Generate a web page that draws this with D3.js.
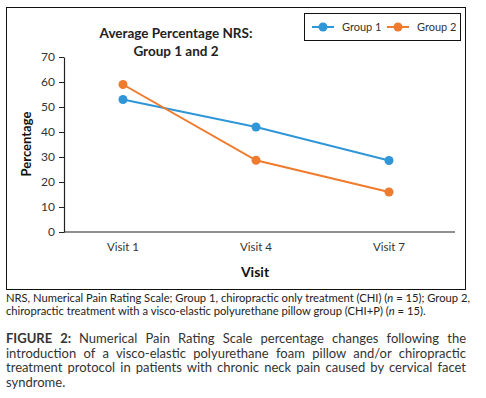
<!DOCTYPE html>
<html>
<head>
<meta charset="utf-8">
<script src="https://cdn.jsdelivr.net/npm/d3@7"></script>
<style>
  html, body { margin: 0; padding: 0; background: #fff; }
  svg { display: block; font-family: Lato, "Open Sans", sans-serif; }
</style>
</head>
<body>
<div id="chart"></div>
<script>
// data
const visits = ["Visit 1", "Visit 4", "Visit 7"];
const group1 = [53, 42, 28.6];
const group2 = [59, 28.7, 16];
const seriesNames = ["Group 1", "Group 2"];
const yTicks = [0, 10, 20, 30, 40, 50, 60, 70];

const noteLines = [
  "NRS, Numerical Pain Rating Scale; Group 1, chiropractic only treatment (CHI) (n = 15); Group 2,",
  "chiropractic treatment with a visco-elastic polyurethane pillow group (CHI+P) (n = 15)."
];
const captionLines = [
  "Numerical Pain Rating Scale percentage changes following the",
  "introduction of a visco-elastic polyurethane foam pillow and/or chiropractic",
  "treatment protocol in patients with chronic neck pain caused by cervical facet",
  "syndrome."
];

const W = 486, H = 398;
const colors = ["#2f96d8", "#ef7b2e"];

const svg = d3.select("#chart").append("svg")
  .attr("width", W).attr("height", H).attr("viewBox", `0 0 ${W} ${H}`);

// chart frame
svg.append("rect").attr("x", 6.5).attr("y", 7.5).attr("width", 459).attr("height", 282)
  .attr("fill", "none").attr("stroke", "#111").attr("stroke-width", 1);

const plot = { left: 64, right: 455, top: 57, bottom: 232 };
const x = d3.scalePoint().domain(visits).range([123, 389]);
const y = d3.scaleLinear().domain([0, 70]).range([plot.bottom, plot.top]);

// y axis
const yAxis = svg.append("g").attr("transform", `translate(${plot.left},0)`)
  .call(d3.axisLeft(y).tickValues(yTicks).tickSize(5).tickSizeOuter(0).tickPadding(4));
yAxis.select(".domain").attr("stroke", "#222").attr("stroke-width", 1.2);
yAxis.selectAll(".tick line").attr("stroke", "#222");
yAxis.selectAll("text").attr("font-size", 12).attr("fill", "#333").attr("font-family", "Lato, sans-serif");

// x axis line + labels
svg.append("line").attr("x1", plot.left).attr("x2", plot.right)
  .attr("y1", plot.bottom).attr("y2", plot.bottom).attr("stroke", "#222").attr("stroke-width", 1.2);
svg.append("g").selectAll("text").data(visits).join("text")
  .attr("x", d => x(d)).attr("y", 247).attr("dy", "0.35em")
  .attr("text-anchor", "middle").attr("font-size", 11.5).attr("fill", "#333").text(d => d);

// axis titles
svg.append("text").attr("x", 255).attr("y", 272).attr("dy", "0.35em")
  .attr("text-anchor", "middle").attr("font-size", 14).attr("font-weight", "bold").attr("fill", "#111").text("Visit");
svg.append("text").attr("transform", "translate(26,144) rotate(-90)").attr("dy", "0.35em")
  .attr("text-anchor", "middle").attr("font-size", 13).attr("font-weight", "bold").attr("fill", "#111").text("Percentage");

// title
const title = svg.append("text").attr("text-anchor", "middle").attr("font-size", 13.5)
  .attr("font-weight", "bold").attr("fill", "#222");
title.append("tspan").attr("x", 176).attr("y", 38).text("Average Percentage NRS:");
title.append("tspan").attr("x", 176).attr("y", 56).text("Group 1 and 2");

// lines + markers
const series = [group1, group2];
const line = d3.line().x((d, i) => x(visits[i])).y(d => y(d));
series.forEach((vals, s) => {
  svg.append("path").datum(vals).attr("d", line)
    .attr("fill", "none").attr("stroke", colors[s]).attr("stroke-width", 2);
  svg.append("g").selectAll("circle").data(vals).join("circle")
    .attr("cx", (d, i) => x(visits[i])).attr("cy", d => y(d)).attr("r", 4.5)
    .attr("fill", colors[s]);
});

// legend
svg.append("rect").attr("x", 304.5).attr("y", 13.5).attr("width", 156).attr("height", 27)
  .attr("fill", "#fff").attr("stroke", "#111").attr("stroke-width", 1);
const legX = [312, 387];
seriesNames.forEach((name, s) => {
  const g = svg.append("g").attr("transform", `translate(${legX[s]},27)`);
  g.append("line").attr("x1", 0).attr("x2", 22).attr("stroke", colors[s]).attr("stroke-width", 2);
  g.append("circle").attr("cx", 11).attr("r", 4.5).attr("fill", colors[s]);
  g.append("text").attr("x", 30).attr("dy", "0.35em").attr("font-size", 11).attr("fill", "#333").text(name);
});

// note below chart
const note = svg.append("g").attr("font-size", 11.2).attr("fill", "#222");
noteLines.forEach((t, i) => {
  const txt = note.append("text").attr("x", 6).attr("y", 302 + i * 13);
  t.split(/(n = 15)/).forEach(part => {
    if (part === "n = 15") {
      txt.append("tspan").attr("font-style", "italic").text("n");
      txt.append("tspan").text(" = 15");
    } else txt.append("tspan").text(part);
  });
});

// figure caption, justified
const capLeft = 6, capRight = 466, capSize = 13;
captionLines.forEach((t, i) => {
  const yy = 343 + i * 14.7;
  const txt = svg.append("text").attr("x", capLeft).attr("y", yy)
    .attr("font-size", capSize).attr("fill", "#333");
  if (i === 0) {
    txt.append("tspan").attr("font-weight", "bold").attr("fill", "#333").text("FIGURE 2: ");
  }
  txt.append("tspan").text(t);
  if (i < captionLines.length - 1) {
    const full = i === 0 ? "FIGURE 2: " + t : t;
    const gaps = full.split(" ").length - 1;
    const natural = txt.node().getComputedTextLength();
    txt.attr("word-spacing", (capRight - capLeft - natural) / gaps);
  }
});
</script>
</body>
</html>
